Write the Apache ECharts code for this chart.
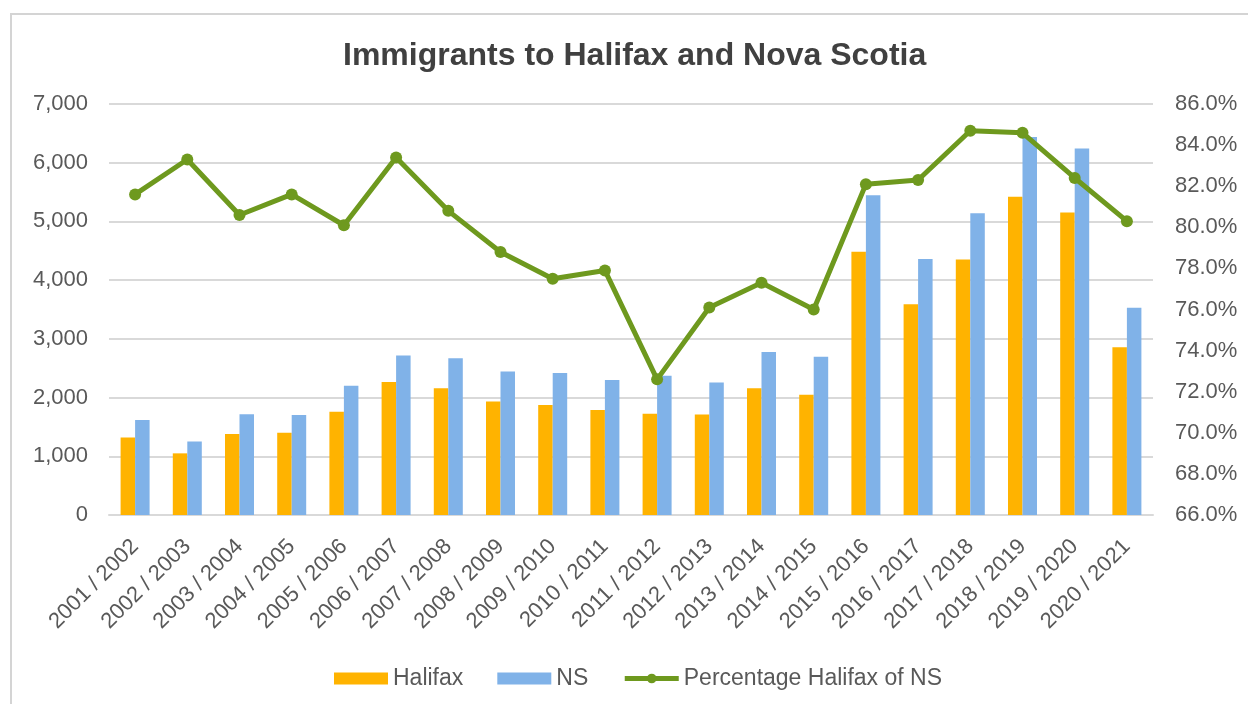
<!DOCTYPE html>
<html>
<head>
<meta charset="utf-8">
<title>Immigrants to Halifax and Nova Scotia</title>
<script src="https://cdn.jsdelivr.net/npm/echarts@6/dist/echarts.min.js"></script>
<style>
  html, body { margin: 0; padding: 0; background: #fff; }
  #chart { width: 1248px; height: 704px; }
</style>
</head>
<body>
<div id="chart"></div>
<script>
// fiscal years on the x axis
const years = ['2001 / 2002', '2002 / 2003', '2003 / 2004', '2004 / 2005', '2005 / 2006',
  '2006 / 2007', '2007 / 2008', '2008 / 2009', '2009 / 2010', '2010 / 2011',
  '2011 / 2012', '2012 / 2013', '2013 / 2014', '2014 / 2015', '2015 / 2016',
  '2016 / 2017', '2017 / 2018', '2018 / 2019', '2019 / 2020', '2020 / 2021'];

// immigrants
const halifax = [1320, 1050, 1380, 1400, 1760, 2265, 2160, 1935, 1875, 1790,
  1725, 1710, 2160, 2050, 4485, 3590, 4350, 5420, 5150, 2855];
const ns = [1620, 1250, 1715, 1705, 2200, 2715, 2670, 2445, 2420, 2300,
  2370, 2255, 2775, 2695, 5445, 4360, 5140, 6440, 6240, 3530];

// Halifax share of NS, in %
const pctHalifax = [81.6, 83.3, 80.6, 81.6, 80.1, 83.4, 80.8, 78.8, 77.5, 77.9,
  72.6, 76.1, 77.3, 76.0, 82.1, 82.3, 84.7, 84.6, 82.4, 80.3];

const font = "'Liberation Sans', Arial, sans-serif";
const labelColor = '#595959';
const green = '#6E991E';

const chart = echarts.init(document.getElementById('chart'));

const option = {
  animation: false,
  backgroundColor: '#fff',
  graphic: [{
    type: 'rect',
    shape: { x: 11, y: 14, width: 1300, height: 760 },
    style: { fill: 'none', stroke: '#d4d4d4', lineWidth: 2 },
    silent: true,
    z: -10
  }],
  title: {
    text: 'Immigrants to Halifax and Nova Scotia',
    left: 338,
    top: 35,
    textStyle: { fontFamily: font, fontSize: 32, fontWeight: 'bold', color: '#404040' }
  },
  legend: {
    left: 329,
    top: 662,
    itemWidth: 54,
    itemHeight: 12,
    itemGap: 34,
    textStyle: { fontFamily: font, fontSize: 23, color: labelColor },
    data: [
      { name: 'Halifax', icon: 'rect' },
      { name: 'NS', icon: 'rect' },
      { name: 'Percentage Halifax of NS', lineStyle: { width: 5 } }
    ]
  },
  grid: { left: 109, right: 95, top: 104, bottom: 189 },
  xAxis: {
    type: 'category',
    data: years,
    axisLine: { lineStyle: { color: '#d9d9d9', width: 2 } },
    axisTick: { show: false },
    axisLabel: {
      rotate: 45,
      margin: 28,
      interval: 0,
      fontFamily: font,
      fontSize: 22,
      color: labelColor
    }
  },
  yAxis: [{
    type: 'value',
    min: 0,
    max: 7000,
    interval: 1000,
    axisLine: { show: false },
    axisTick: { show: false },
    splitLine: { lineStyle: { color: '#d9d9d9', width: 2 } },
    axisLabel: {
      margin: 21,
      fontFamily: font,
      fontSize: 22,
      color: labelColor,
      formatter: v => v.toLocaleString('en-US')
    }
  }, {
    type: 'value',
    min: 66,
    max: 86,
    interval: 2,
    axisLine: { show: false },
    axisTick: { show: false },
    splitLine: { show: false },
    axisLabel: {
      margin: 22,
      fontFamily: font,
      fontSize: 22,
      color: labelColor,
      formatter: v => v.toFixed(1) + '%'
    }
  }],
  series: [{
    name: 'Halifax',
    type: 'bar',
    data: halifax,
    barWidth: 14.5,
    barGap: '0%',
    itemStyle: { color: '#FFB300' }
  }, {
    name: 'NS',
    type: 'bar',
    data: ns,
    barWidth: 14.5,
    itemStyle: { color: '#80B2E8' }
  }, {
    name: 'Percentage Halifax of NS',
    type: 'line',
    yAxisIndex: 1,
    data: pctHalifax,
    symbol: 'circle',
    symbolSize: 12,
    lineStyle: { color: green, width: 5 },
    itemStyle: { color: green },
    z: 5
  }]
};

chart.setOption(option);
</script>
</body>
</html>
